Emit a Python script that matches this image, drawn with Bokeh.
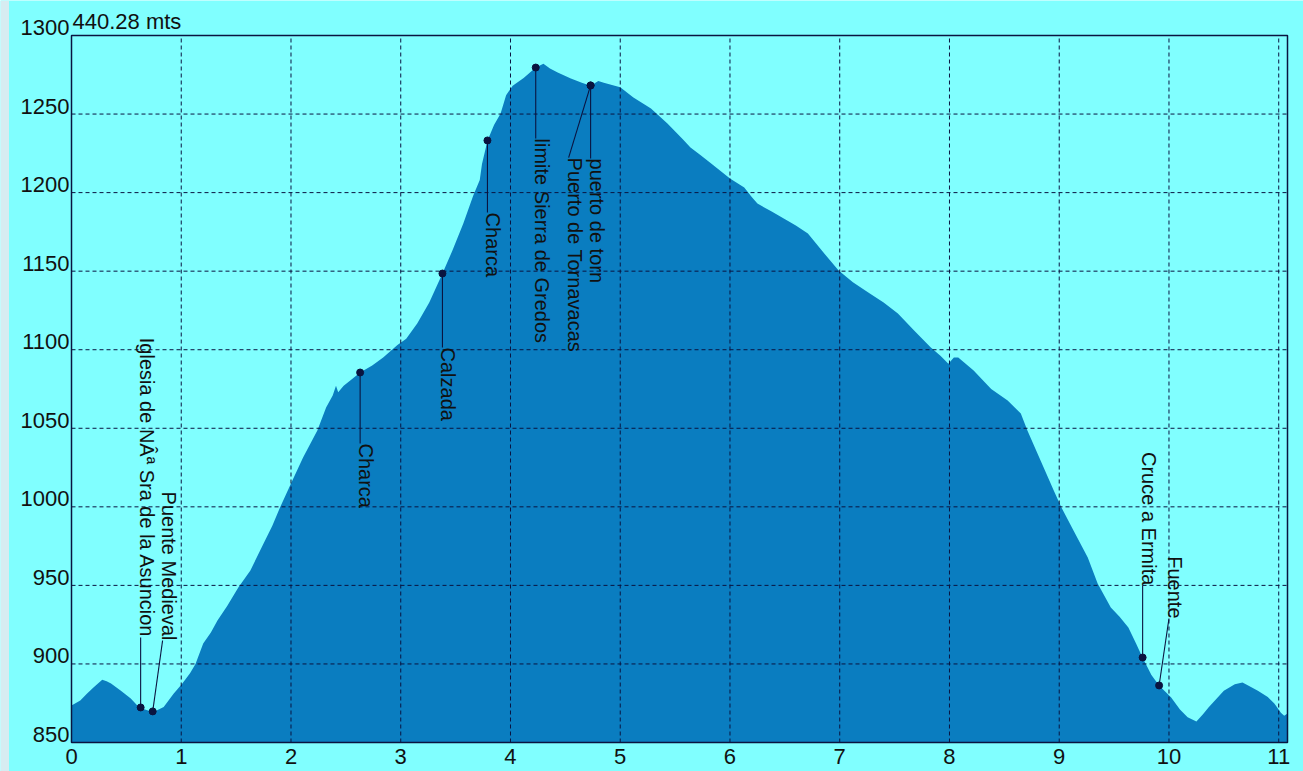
import numpy as np
from bokeh.plotting import figure
from bokeh.models import ColumnDataSource, Grid, Range1d
from bokeh.embed import file_html
from bokeh.resources import INLINE
from bokeh.core.properties import value

# ---- data -------------------------------------------------------------
dist = [0.00, 0.08, 0.14, 0.20, 0.28, 0.32, 0.36, 0.45, 0.54, 0.60, 0.63, 0.69,
        0.74, 0.78, 0.84, 0.93, 1.01, 1.08, 1.13, 1.20, 1.27, 1.33, 1.42, 1.52,
        1.63, 1.75, 1.83, 1.90, 2.00, 2.11, 2.24, 2.32, 2.38, 2.41, 2.43, 2.48,
        2.54, 2.63, 2.74, 2.84, 2.97, 3.05, 3.15, 3.26, 3.38, 3.47, 3.57, 3.66,
        3.72, 3.74, 3.79, 3.85, 3.91, 3.96, 4.02, 4.12, 4.23, 4.30, 4.36, 4.43,
        4.55, 4.65, 4.73, 4.80, 4.85, 5.00, 5.12, 5.28, 5.43, 5.57, 5.64, 5.73,
        5.82, 6.00, 6.13, 6.20, 6.25, 6.38, 6.49, 6.60, 6.71, 6.85, 6.99, 7.12,
        7.26, 7.40, 7.53, 7.68, 7.83, 7.92, 7.99, 8.04, 8.08, 8.22, 8.38, 8.53,
        8.65, 8.71, 8.83, 8.95, 9.02, 9.13, 9.26, 9.35, 9.47, 9.55, 9.63, 9.70,
        9.76, 9.84, 9.91, 10.02, 10.10, 10.17, 10.25, 10.31, 10.36, 10.50, 10.60,
        10.67, 10.73, 10.81, 10.90, 10.96, 11.02, 11.05, 11.08]
elev = [873.5, 876.7, 881.0, 885.0, 890.0, 889.0, 887.6, 883.0, 878.0, 873.5, 872.0, 870.5,
        869.8, 870.5, 872.6, 881.0, 887.5, 894.0, 900.0, 913.0, 920.0, 927.6, 937.0, 948.6,
        959.5, 976.7, 988.0, 999.6, 1014.9, 1031.4, 1048.6, 1063.2, 1070.9, 1077.0, 1073.0, 1077.0,
        1080.4, 1085.5, 1090.0, 1095.0, 1103.0, 1107.0, 1116.7, 1130.0, 1148.5, 1163.0, 1180.3, 1198.0,
        1208.0, 1218.0, 1233.0, 1243.0, 1250.4, 1262.0, 1268.0, 1273.0, 1279.6, 1282.0, 1279.0, 1276.4,
        1272.6, 1270.0, 1268.0, 1271.0, 1270.0, 1267.0, 1260.5, 1253.5, 1244.0, 1234.0, 1228.7, 1224.0,
        1219.0, 1209.0, 1203.3, 1197.0, 1193.0, 1188.0, 1183.5, 1179.0, 1174.0, 1162.0, 1150.4, 1143.0,
        1136.4, 1130.0, 1123.0, 1112.0, 1101.4, 1096.0, 1091.0, 1095.0, 1095.0, 1086.8, 1075.0, 1067.7,
        1059.4, 1048.6, 1029.5, 1010.4, 999.6, 985.0, 967.8, 951.2, 935.9, 930.0, 923.2, 913.0,
        904.0, 893.0, 886.3, 878.6, 871.0, 866.0, 863.4, 868.0, 872.3, 883.0, 887.0,
        888.2, 886.0, 883.0, 879.0, 874.8, 869.0, 867.0, 868.5]

x_ticks = [0, 1, 2, 3, 4, 5, 6, 7, 8, 9, 10, 11]
y_ticks = [850, 900, 950, 1000, 1050, 1100, 1150, 1200, 1250, 1300]
x_lo, x_hi = 0.0, 11.08
y_lo, y_hi = 850, 1300
total_label = "440.28 mts"

# waypoints (point on profile) and where their label text is anchored
wp_names = ["Iglesia de NÂª Sra de la Asuncion", "Puente Medieval", "Charca", "Calzada",
            "Charca", "limite Sierra de Gredos", "Puerto de Tornavacas", "puerto de torn",
            "Cruce a Ermita", "Fuente"]
wp_dist = [0.63, 0.74, 2.63, 3.38, 3.79, 4.23, 4.73, 4.73, 9.76, 9.91]
wp_elev = [872.3, 869.8, 1085.5, 1148.5, 1233.2, 1279.6, 1268.2, 1268.2, 904.1, 886.3]
lbl_dist = [0.63, 0.83, 2.63, 3.38, 3.79, 4.23, 4.53, 4.73, 9.76, 10.00]
lbl_elev = [916.8, 914.9, 1040.3, 1101.4, 1187.3, 1234.4, 1222.3, 1221.7, 950.0, 928.9]
lbl_above = [True, True, False, False, False, False, False, False, True, True]

# ---- style / layout ---------------------------------------------------
CYAN = "#80FFFF"
FILL = "#0A7DC0"
DARK = "#0A1440"
TXT = "#111111"
FONT = "Liberation Sans"

W, H = 1303, 771
PL, PR, PT, PB = 71, 1287, 35, 742        # pixel edges of the data box
kx = (PR - PL) / (x_hi - x_lo)
ky = (PB - PT) / (y_hi - y_lo)
xs = x_lo - PL / kx
xe = xs + W / kx
ye = y_hi + PT / ky
ys = ye - H / ky

p = figure(width=W, height=H,
           x_range=Range1d(xs, xe), y_range=Range1d(ys, ye),
           output_backend="svg", toolbar_location=None,
           x_axis_location=None, y_axis_location=None,
           min_border=0, min_border_left=0, min_border_right=0,
           min_border_top=0, min_border_bottom=0,
           background_fill_color=CYAN, border_fill_color=CYAN,
           outline_line_color=None)
p.center = [r for r in p.center if not isinstance(r, Grid)]

# light strip at the very left of the window
p.quad(left=xs, right=xs + 8.5 / kx, bottom=ys, top=ye,
       fill_color="#d6ecf1", line_color=None)

# profile fill
p.varea(x=dist, y1=y_lo, y2=elev, fill_color=FILL, fill_alpha=1.0)

# dashed grid
p.segment(x0=x_ticks, y0=[y_lo] * len(x_ticks), x1=x_ticks, y1=[y_hi] * len(x_ticks),
          line_color=DARK, line_width=1, line_dash="4 3")
p.segment(x0=[x_lo] * len(y_ticks), y0=y_ticks, x1=[x_hi] * len(y_ticks), y1=y_ticks,
          line_color=DARK, line_width=1, line_dash="4 3")

# box outline
p.quad(left=x_lo, right=x_hi, bottom=y_lo, top=y_hi,
       fill_color=None, line_color=DARK, line_width=1.5)

# leader lines and points
p.segment(x0=wp_dist, y0=wp_elev, x1=lbl_dist, y1=lbl_elev,
          line_color=DARK, line_width=1.1)
p.scatter(x=wp_dist, y=wp_elev, size=7, fill_color=DARK, line_color=DARK)

for above, align in ((True, "right"), (False, "left")):
    idx = [i for i, a in enumerate(lbl_above) if a == above]
    src = ColumnDataSource(dict(x=[lbl_dist[i] for i in idx],
                                y=[lbl_elev[i] for i in idx],
                                t=[wp_names[i] for i in idx]))
    p.text(x="x", y="y", text="t", source=src, angle=-np.pi / 2,
           x_offset=6, text_align=align, text_baseline="middle",
           text_font=value(FONT), text_font_size="20px", text_color=TXT)

# tick labels
p.text(x=[x_lo] * len(y_ticks), y=y_ticks, text=[str(v) for v in y_ticks],
       x_offset=-2, y_offset=-8, text_align="right", text_baseline="middle",
       text_font=value(FONT), text_font_size="22px", text_color=TXT)
p.text(x=x_ticks, y=[y_lo] * len(x_ticks), text=[str(v) for v in x_ticks],
       y_offset=14, text_align="center", text_baseline="middle",
       text_font=value(FONT), text_font_size="22px", text_color=TXT)

# total ascent label
p.text(x=[x_lo], y=[y_hi], text=[total_label], x_offset=1, y_offset=-14,
       text_align="left", text_baseline="middle",
       text_font=value(FONT), text_font_size="22px", text_color=TXT)

open("out.html", "w").write(file_html(p, INLINE))
